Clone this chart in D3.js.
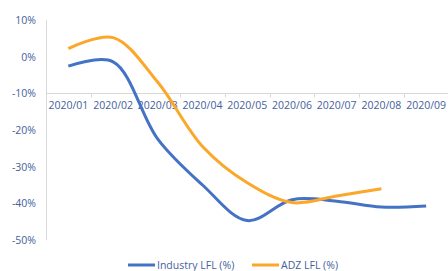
<!DOCTYPE html>
<html>
<head>
<meta charset="utf-8">
<script src="https://cdn.jsdelivr.net/npm/d3@7"></script>
<style>
  body { margin: 0; background: #fff; }
  text { font-family: "Open Sans", sans-serif; fill: #44619c; }
</style>
</head>
<body>
<div id="vis"></div>
<script>
// values (percent)
var months = ['2020/01', '2020/02', '2020/03', '2020/04', '2020/05', '2020/06', '2020/07', '2020/08', '2020/09'];
var industryLfl = [-2.6, -1.4, -22.5, -35, -44.7, -39, -39.4, -41, -40.7];
var adzLfl = [2.2, 5.2, -7, -24.5, -34.4, -39.8, -38, -36];
var yTicks = [10, 0, -10, -20, -30, -40, -50];

var width = 448;
var height = 271;

var svg = d3.select('#vis')
    .append('svg')
    .attr('width', width)
    .attr('height', height);

var x = d3.scaleBand()
    .domain(months)
    .range([46, 448 + 0.5]);

var y = d3.scaleLinear()
    .domain([-50, 10])
    .range([240, 20]);

var xc = (d) => x(d) + x.bandwidth() / 2;

// vertical axis line
svg.append('line')
    .attr('x1', 46.5).attr('x2', 46.5)
    .attr('y1', y(10)).attr('y2', y(-50))
    .attr('stroke', '#d9d9d9');

// y tick labels
svg.selectAll('.ylab')
    .data(yTicks)
    .enter()
    .append('text')
    .attr('x', 36)
    .attr('y', (d) => y(d) + 4)
    .attr('text-anchor', 'end')
    .style('font-size', '10.5px')
    .text((d) => d + '%');

// category axis crosses at -10%
var axisY = Math.round(y(-10)) + 0.5;
svg.append('line')
    .attr('x1', 46).attr('x2', width)
    .attr('y1', axisY).attr('y2', axisY)
    .attr('stroke', '#d9d9d9');

svg.selectAll('.xtick')
    .data(months)
    .enter()
    .append('line')
    .attr('x1', (d) => Math.round(x(d)) + 0.5)
    .attr('x2', (d) => Math.round(x(d)) + 0.5)
    .attr('y1', axisY)
    .attr('y2', axisY + 4)
    .attr('stroke', '#d9d9d9');

svg.selectAll('.xlab')
    .data(months)
    .enter()
    .append('text')
    .attr('x', xc)
    .attr('y', axisY + 15)
    .attr('text-anchor', 'middle')
    .style('font-size', '10.5px')
    .text((d) => d);

var line = d3.line()
    .x((d, i) => xc(months[i]))
    .y((d) => y(d))
    .curve(d3.curveCatmullRom.alpha(0.5));

svg.append('path')
    .attr('d', line(industryLfl))
    .attr('fill', 'none')
    .attr('stroke', '#4472c4')
    .attr('stroke-width', 3);

svg.append('path')
    .attr('d', line(adzLfl))
    .attr('fill', 'none')
    .attr('stroke', '#fba72a')
    .attr('stroke-width', 3);

// legend
var legend = [
    { name: 'Industry LFL (%)', color: '#4472c4', x: 128 },
    { name: 'ADZ LFL (%)', color: '#fba72a', x: 252 }
];
var lg = svg.selectAll('.legend')
    .data(legend)
    .enter()
    .append('g')
    .attr('transform', (d) => 'translate(' + d.x + ',265)');
lg.append('line')
    .attr('x1', 0).attr('x2', 27)
    .attr('stroke', (d) => d.color)
    .attr('stroke-width', 3);
lg.append('text')
    .attr('x', 29)
    .attr('y', 3.5)
    .style('font-size', '10.5px')
    .text((d) => d.name);
</script>
</body>
</html>
